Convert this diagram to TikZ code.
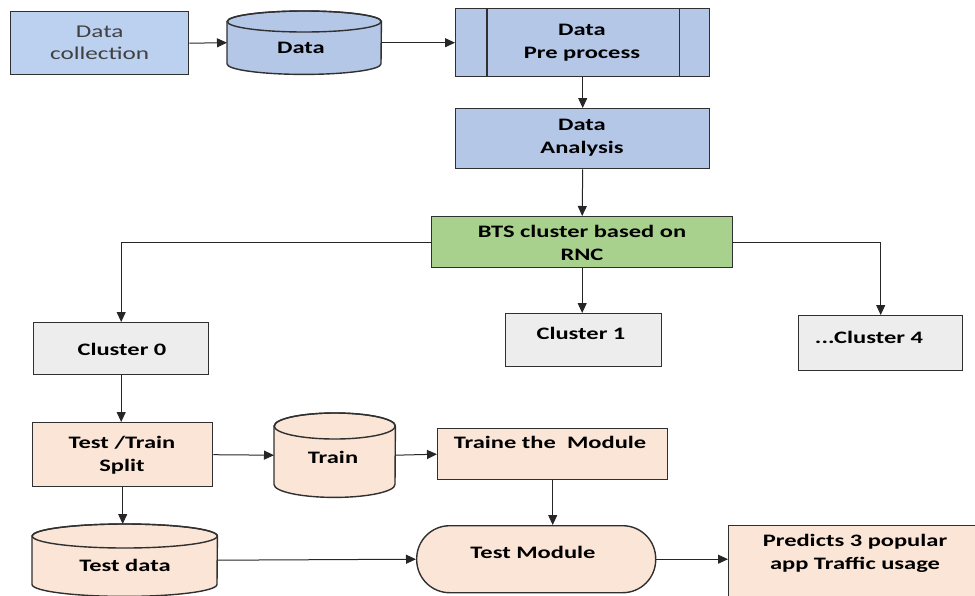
\documentclass[tikz,border=0pt]{standalone}
\usepackage{fontspec}
\setmainfont{Carlito}[FakeStretch=1.4]
\usetikzlibrary{arrows.meta,calc}

\definecolor{blueF}{HTML}{B4C7E7}
\definecolor{blueC}{HTML}{BCD0EF}
\definecolor{greenF}{HTML}{A9D18E}
\definecolor{grayF}{HTML}{EDEDED}
\definecolor{peachF}{HTML}{FBE5D6}
\definecolor{edge}{HTML}{303030}
\definecolor{arrowc}{HTML}{262626}
\definecolor{softtext}{HTML}{404040}

\tikzset{
  box/.style={draw=edge, line width=1.4pt, anchor=north west, inner sep=0pt},
  lbl/.style={inner sep=0pt, align=center, text=black,
    font=\bfseries\fontsize{17.5}{23}\selectfont},
  drumline/.style={draw=edge, line width=1.4pt},
  flow/.style={draw=arrowc, line width=1pt, -{Triangle[length=10pt,width=9pt]}},
}

% #1 name, #2 x, #3 y, #4 width, #5 height, #6 ellipse half-height, #7 fill
\newcommand\drumshape[7]{%
  \node[anchor=north west, minimum width=#4pt, minimum height=#5pt, inner sep=0pt] (#1) at (#2,#3) {};
  \path[drumline, fill=#7] ([yshift=-#6pt]#1.north west) -- ([yshift=#6pt]#1.south west)
    arc[start angle=180, end angle=360, x radius=#4pt/2, y radius=#6pt]
    -- ([yshift=-#6pt]#1.north east)
    arc[start angle=0, end angle=180, x radius=#4pt/2, y radius=#6pt] -- cycle;
  \draw[drumline] ([yshift=-#6pt]#1.north) ellipse[x radius=#4pt/2, y radius=#6pt];
}

\begin{document}
\begin{tikzpicture}[x=1pt, y=-1pt]
\useasboundingbox (0,0) rectangle (975,595);

% top row
\node[box, fill=blueC, minimum width=178pt, minimum height=63pt, align=center,
      text=softtext, font=\fontsize{18}{22}\selectfont] (coll) at (10,11) {Data\\collection};
\drumshape{data}{227}{11}{154}{63}{10.5}{blueF}
\node[lbl] (datat) at (301,48) {Data};

\node[box, fill=blueF, minimum width=254pt, minimum height=68pt] (pre) at (455,8) {};
\draw[drumline] ([xshift=32pt]pre.north west) -- ([xshift=32pt]pre.south west)
                ([xshift=-31pt]pre.north east) -- ([xshift=-31pt]pre.south east);
\node[lbl] (pret) at (582,43) {Data\\Pre process};

\node[box, fill=blueF, minimum width=254pt, minimum height=60pt] (ana) at (455,108) {};
\node[lbl] (anat) at (582,138) {Data\\Analysis};

\node[box, fill=greenF, minimum width=301pt, minimum height=51pt] (bts) at (431,216) {};
\node[lbl] (btst) at (582,243) {BTS cluster based on\\RNC};

% clusters
\node[box, fill=grayF, minimum width=175pt, minimum height=52pt] (c0) at (33,322) {};
\node[lbl] (c0t) at (122,349) {Cluster 0};
\node[box, fill=grayF, minimum width=156pt, minimum height=53pt] (c1) at (505,313) {};
\node[lbl] (c1t) at (581,333) {Cluster 1};
\node[box, fill=grayF, minimum width=164pt, minimum height=55pt] (c4) at (798,315) {};
\node[lbl] (c4t) at (869,337) {...Cluster 4};

% training branch
\node[box, fill=peachF, minimum width=180pt, minimum height=64pt] (split) at (32,422) {};
\node[lbl] (splitt) at (122,455) {Test /Train\\Split};
\drumshape{train}{274}{413}{121}{84}{13}{peachF}
\node[lbl] (traint) at (333,457) {Train};
\node[box, fill=peachF, minimum width=230pt, minimum height=51pt] (tmod) at (437,428) {};
\node[lbl] (tmodt) at (550,442) {Traine the \ Module};

% testing branch
\drumshape{tdata}{32}{524}{185}{72}{12}{peachF}
\node[lbl] (tdatat) at (125,565) {Test data};
\node[box, fill=peachF, minimum width=239pt, minimum height=67pt, rounded corners=33pt] (test) at (416,525) {};
\node[lbl] (testt) at (533,552) {Test Module};
\node[box, fill=peachF, minimum width=260pt, minimum height=85pt] (pred) at (728,525) {};
\node[lbl] (predt) at (855,553) {Predicts 3 popular\\app Traffic usage};

% connectors
\draw[flow] (coll.east) -- (data.west);
\draw[flow] (data.east) -- (pre.west);
\draw[flow] (pre.south) -- (ana.north);
\draw[flow] (ana.south) -- (bts.north);
\draw[flow] (bts.west) -| (c0.north);
\draw[flow] (bts.east) -| (c4.north);
\draw[flow] (bts.south) -- (bts.south |- c1.north);
\draw[flow] (c0.south) -- (c0.south |- split.north);
\draw[flow] (split.east) -- (train.west);
\draw[flow] (train.east) -- (tmod.west);
\draw[flow] (tmod.south) -- (tmod.south |- test.north);
\draw[flow] (split.south) -- (split.south |- tdata.north);
\draw[flow] (tdata.east) -- (test.west);
\draw[flow] (test.east) -- (test.east -| pred.west);
\end{tikzpicture}
\end{document}
